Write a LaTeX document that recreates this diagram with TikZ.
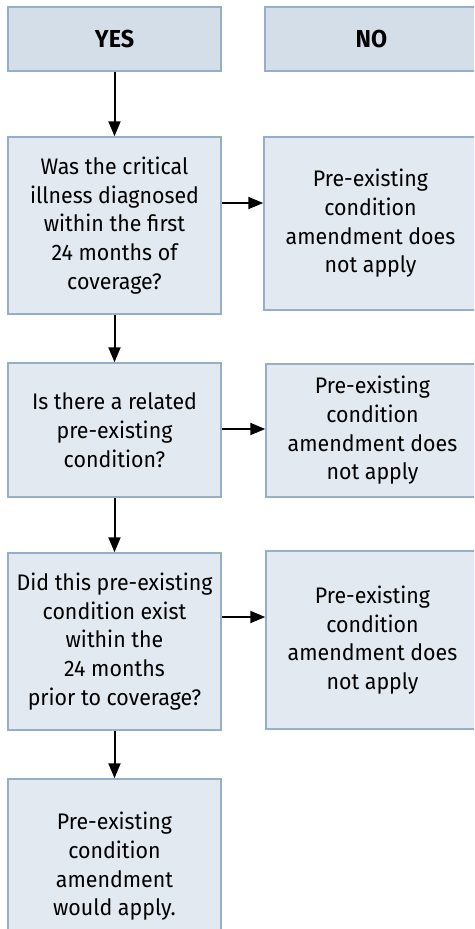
\documentclass[tikz,border=0pt]{standalone}
\usepackage{fontspec}
\setmainfont{Fira Sans}[FakeStretch=0.95]
\usepackage{xcolor}
\usetikzlibrary{arrows.meta, calc}

\definecolor{boxline}{RGB}{150,175,200}
\definecolor{boxfill}{RGB}{227,233,240}
\definecolor{headfill}{RGB}{211,222,232}

\begin{document}
\begin{tikzpicture}[x=1pt, y=1pt,
    box/.style={draw=boxline, line width=1.5pt, fill=boxfill,
        minimum width=213pt, align=center, inner sep=0pt,
        font=\fontsize{22.5}{28.7}\selectfont},
    head/.style={box, fill=headfill, minimum height=64pt,
        font=\fontsize{24.5}{28.7}\selectfont\bfseries},
    arr/.style={line width=2pt, -{Triangle[length=15pt, width=12pt]}}]

    \useasboundingbox (0,0) rectangle (474,-929);
    \clip (0,0) rectangle (474,-929);

    % headers
    \node[head] (yes) at (114.5,-39) {YES};
    \node[head] (no) at (371.5,-39) {NO};

    % yes column
    \node[box, minimum height=177pt] (q1) at (114.5,-225.5)
        {Was the critical\\illness diagnosed\\within the first\\24 months of\\coverage?};
    \node[box, minimum height=134pt] (q2) at (114.5,-430)
        {Is there a related\\pre-existing\\condition?};
    \node[box, minimum height=177pt] (q3) at (114.5,-641.5)
        {Did this pre-existing\\condition exist\\within the\\24 months\\prior to coverage?};
    \node[box, minimum height=175pt] (fin) at (114.5,-866.5)
        {Pre-existing\\condition\\amendment\\would apply.};

    % no column
    \node[box, minimum height=173pt] (r1) at (370.5,-223.5)
        {Pre-existing\\condition\\amendment does\\not apply};
    \node[box, minimum height=133pt] (r2) at (372.5,-430.5)
        {Pre-existing\\condition\\amendment does\\not apply};
    \node[box, minimum height=178pt] (r3) at (372.5,-640)
        {Pre-existing\\condition\\amendment does\\not apply};

    % arrows
    \draw[arr] (yes.south) -- (q1.north);
    \draw[arr] (q1.south) -- (q2.north);
    \draw[arr] (q2.south) -- (q3.north);
    \draw[arr] (q3.south) -- (fin.north);

    \draw[arr] ($(q1.east)+(0,22.5)$) -- ($(r1.west)+(0,20.5)$);
    \draw[arr] ($(q2.east)+(0,1)$) -- ($(r2.west)+(0,1.5)$);
    \draw[arr] ($(q3.east)+(0,24.5)$) -- ($(r3.west)+(0,23)$);
\end{tikzpicture}
\end{document}
